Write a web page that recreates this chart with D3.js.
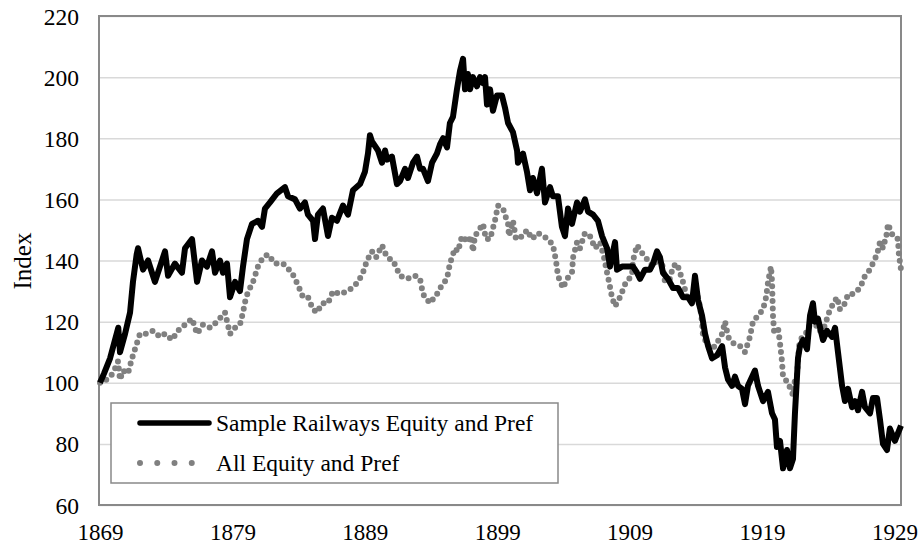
<!DOCTYPE html>
<html>
<head>
<meta charset="utf-8">
<script src="https://cdn.jsdelivr.net/npm/d3@7/dist/d3.min.js"></script>
<style>
  body { margin: 0; background: #fff; }
  svg { display: block; font-family: "Liberation Serif", "Times New Roman", serif; }
</style>
</head>
<body>
<svg id="chart"></svg>
<script>
// 数据
const railYears = [
  1869.00, 1869.30, 1869.76, 1870.38, 1870.51, 1870.89, 1871.27, 1871.49, 1871.77, 1871.87,
  1872.25, 1872.63, 1873.15, 1873.53, 1873.91, 1874.14, 1874.66, 1875.19, 1875.42, 1875.95,
  1876.33, 1876.70, 1877.08, 1877.46, 1877.69, 1878.06, 1878.29, 1878.59, 1878.82, 1879.20,
  1879.57, 1879.80, 1880.10, 1880.48, 1880.93, 1881.24, 1881.46, 1881.84, 1882.37, 1882.97,
  1883.20, 1883.73, 1884.10, 1884.48, 1884.71, 1885.09, 1885.24, 1885.46, 1885.84, 1886.22,
  1886.52, 1886.90, 1887.35, 1887.73, 1888.11, 1888.64, 1889.01, 1889.24, 1889.39, 1889.54,
  1890.00, 1890.30, 1890.53, 1890.68, 1891.05, 1891.43, 1891.66, 1892.04, 1892.26, 1892.64,
  1892.94, 1893.17, 1893.40, 1893.77, 1894.08, 1894.45, 1894.68, 1894.91, 1895.21, 1895.43,
  1895.66, 1895.96, 1896.19, 1896.42, 1896.57, 1896.79, 1896.95, 1897.17, 1897.47, 1897.70,
  1897.93, 1898.08, 1898.23, 1898.46, 1898.68, 1898.98, 1899.36, 1899.59, 1899.82, 1900.19,
  1900.50, 1900.57, 1900.95, 1901.25, 1901.48, 1901.70, 1902.01, 1902.38, 1902.61, 1902.99,
  1903.21, 1903.59, 1903.89, 1904.12, 1904.35, 1904.65, 1905.03, 1905.25, 1905.63, 1905.86,
  1906.24, 1906.61, 1906.92, 1907.30, 1907.52, 1907.90, 1908.05, 1908.43, 1908.88, 1909.26,
  1909.56, 1909.79, 1910.16, 1910.54, 1910.77, 1911.07, 1911.30, 1911.52, 1911.90, 1912.28,
  1912.66, 1913.03, 1913.41, 1913.71, 1913.94, 1914.17, 1914.47, 1914.70, 1914.93, 1915.23,
  1915.61, 1915.99, 1916.21, 1916.44, 1916.74, 1916.96, 1917.19, 1917.49, 1917.72, 1917.94,
  1918.47, 1918.70, 1919.08, 1919.45, 1919.76, 1919.98, 1920.13, 1920.36, 1920.59, 1920.89,
  1921.11, 1921.34, 1921.49, 1921.72, 1921.87, 1922.10, 1922.40, 1922.63, 1922.85, 1923.00,
  1923.23, 1923.61, 1923.91, 1924.29, 1924.52, 1924.74, 1925.05, 1925.27, 1925.50, 1925.80,
  1926.03, 1926.25, 1926.56, 1926.78, 1927.16, 1927.38, 1927.69, 1927.91, 1928.14, 1928.44,
  1928.66, 1929.04, 1929.50
];
const railValues = [
  100, 103, 108, 118, 110, 116, 123, 133, 142, 144,
  137, 140, 133, 138, 143, 135, 139, 136, 144, 147,
  133, 140, 138, 143, 136, 140, 136, 139, 128, 133,
  130, 138, 147, 152, 153, 151, 157, 159, 162, 164,
  161, 160, 157, 159, 155, 153, 147, 155, 157, 148,
  154, 153, 158, 155, 163, 165, 169, 175, 181, 179,
  176, 172, 176, 173, 174, 165, 166, 170, 167, 172,
  174, 170, 170, 166, 172, 175, 178, 180, 177, 185,
  187, 196, 202, 206, 196, 201, 196, 200, 197, 200,
  198, 200, 191, 196, 189, 194, 194, 190, 185, 182,
  176, 172, 175, 169, 163, 167, 162, 170, 159, 164,
  161, 161, 151, 148, 157, 152, 159, 156, 160, 156,
  155, 153, 148, 144, 138, 146, 137, 138, 138, 138,
  136, 134, 137, 137, 139, 143, 141, 136, 134, 131,
  131, 128, 128, 126, 135, 127, 122, 116, 112, 108,
  109, 112, 105, 101, 99, 102, 99, 98, 93, 99,
  104, 99, 94, 97, 90, 88, 79, 81, 72, 78,
  72, 75, 90, 108, 112, 114, 111, 122, 126, 120,
  121, 114, 117, 115, 118, 110, 99, 94, 98, 92,
  94, 91, 97, 92, 90, 95, 95, 88, 80, 78,
  85, 81, 86
];

const allYears = [
  1869.00, 1869.23, 1869.98, 1870.36, 1870.51, 1870.74, 1871.11, 1871.42, 1871.79, 1872.02,
  1872.55, 1873.00, 1873.53, 1873.91, 1874.44, 1874.89, 1875.42, 1875.95, 1876.33, 1876.78,
  1877.31, 1877.84, 1878.44, 1878.82, 1879.20, 1879.57, 1879.80, 1880.03, 1880.33, 1880.56,
  1880.93, 1881.31, 1881.69, 1882.22, 1882.82, 1883.50, 1883.95, 1884.33, 1884.71, 1885.09,
  1885.39, 1885.77, 1886.22, 1886.60, 1887.13, 1887.66, 1888.03, 1888.49, 1888.86, 1889.17,
  1889.54, 1889.85, 1890.30, 1890.68, 1891.13, 1891.66, 1892.19, 1892.79, 1893.17, 1893.40,
  1893.92, 1894.45, 1894.83, 1895.21, 1895.43, 1895.66, 1895.81, 1896.04, 1896.34, 1896.79,
  1897.02, 1897.17, 1897.32, 1897.93, 1898.15, 1898.46, 1898.83, 1899.06, 1899.44, 1899.66,
  1899.82, 1899.89, 1900.19, 1900.42, 1900.95, 1901.25, 1901.63, 1902.08, 1902.46, 1902.84,
  1903.21, 1903.44, 1903.59, 1903.97, 1904.27, 1904.65, 1904.73, 1905.03, 1905.25, 1905.63,
  1906.01, 1906.39, 1906.77, 1907.07, 1907.30, 1907.45, 1907.67, 1907.90, 1908.28, 1908.73,
  1909.18, 1909.26, 1909.56, 1910.01, 1910.39, 1910.77, 1911.14, 1911.52, 1911.67, 1912.05,
  1912.28, 1912.58, 1912.81, 1913.03, 1913.34, 1913.71, 1914.09, 1914.32, 1914.47, 1914.55,
  1914.85, 1915.08, 1915.46, 1915.99, 1916.21, 1916.44, 1916.81, 1917.34, 1917.72, 1918.09,
  1918.32, 1918.70, 1919.08, 1919.31, 1919.46, 1919.68, 1919.76, 1919.79, 1919.83, 1919.91,
  1920.21, 1920.36, 1920.51, 1920.59, 1920.96, 1921.34, 1921.49, 1921.64, 1921.72, 1921.80,
  1922.02, 1922.25, 1922.48, 1922.78, 1923.00, 1923.23, 1923.61, 1923.84, 1924.14, 1924.67,
  1924.89, 1925.27, 1925.50, 1925.88, 1926.41, 1926.78, 1927.16, 1927.69, 1927.91, 1928.14,
  1928.44, 1928.51, 1928.89, 1929.27, 1929.34, 1929.50
];
const allValues = [
  100, 100, 103, 107, 101, 104, 103, 108, 113, 116,
  116, 117, 115, 116, 114, 117, 119, 121, 116, 119,
  118, 120, 123, 116, 118, 119, 123, 128, 131, 133,
  138, 141, 142, 139, 139, 136, 132, 128, 128, 124,
  123, 126, 126, 130, 129, 130, 131, 133, 136, 140,
  143, 141, 145, 141, 140, 135, 134, 135, 134, 129,
  126, 129, 132, 134, 139, 142, 144, 143, 148, 146,
  148, 143, 148, 152, 147, 147, 153, 158, 157, 154,
  152, 148, 153, 147, 148, 150, 147, 149, 148, 147,
  145, 140, 135, 131, 134, 136, 141, 146, 144, 149,
  148, 144, 146, 141, 136, 133, 128, 125, 128, 133,
  135, 140, 145, 142, 140, 138, 141, 138, 133, 134,
  138, 139, 136, 133, 128, 128, 129, 125, 120, 115,
  113, 111, 112, 116, 120, 115, 113, 112, 110, 115,
  120, 122, 124, 128, 133, 138, 133, 128, 122, 117,
  118, 113, 107, 102, 100, 96, 101, 102, 107, 112,
  115, 116, 117, 122, 120, 117, 117, 120, 124, 128,
  124, 126, 129, 129, 131, 135, 137, 142, 146, 144,
  149, 152, 148, 147, 142, 137
];

const yTicks = [60, 80, 100, 120, 140, 160, 180, 200, 220];
const xTicks = [1869, 1879, 1889, 1899, 1909, 1919, 1929];
const seriesNames = ['Sample Railways Equity and Pref', 'All Equity and Pref'];

// 画布与绘图区
const W = 922, H = 546;
const plot = { left: 99, right: 901, top: 16, bottom: 505 };

const svg = d3.select('#chart').attr('width', W).attr('height', H);

// 比例尺
const xScale = d3.scaleLinear().domain([1869, 1929.5]).range([100, plot.right]);
const yScale = d3.scaleLinear().domain([60, 220]).range([plot.bottom, plot.top]);

// 网格线
svg.append('g')
  .attr('transform', `translate(${plot.left},0)`)
  .call(d3.axisLeft(yScale).tickValues(yTicks).tickSize(-(plot.right - plot.left)).tickFormat(''))
  .call(g => g.select('.domain').remove())
  .call(g => g.selectAll('line').attr('stroke', '#d9d9d9').attr('stroke-width', 1.5));

// Y轴刻度标签
svg.append('g')
  .attr('transform', `translate(${plot.left},0)`)
  .call(d3.axisLeft(yScale).tickValues(yTicks).tickSize(0).tickPadding(20))
  .call(g => g.select('.domain').remove())
  .call(g => g.selectAll('text')
    .attr('font-family', '"Liberation Serif", "Times New Roman", serif')
    .attr('font-size', 23.5)
    .attr('fill', '#000')
    .attr('dy', '0.34em'));

// X轴刻度标签
svg.append('g')
  .attr('transform', `translate(0,${plot.bottom})`)
  .call(d3.axisBottom(xScale).tickValues(xTicks).tickSize(0).tickPadding(0).tickFormat(d3.format('d')))
  .call(g => g.select('.domain').remove())
  .call(g => g.selectAll('text')
    .attr('font-family', '"Liberation Serif", "Times New Roman", serif')
    .attr('font-size', 23)
    .attr('fill', '#000')
    .attr('y', 35)
    .attr('dy', null));

// 绘图区边框
svg.append('rect')
  .attr('x', plot.left)
  .attr('y', plot.top)
  .attr('width', plot.right - plot.left)
  .attr('height', plot.bottom - plot.top)
  .attr('fill', 'none')
  .attr('stroke', '#898989')
  .attr('stroke-width', 2);

// Y轴标题
svg.append('text')
  .attr('transform', 'rotate(-90)')
  .attr('x', -261)
  .attr('y', 31)
  .attr('text-anchor', 'middle')
  .attr('font-size', 25)
  .text('Index');

// 折线
const line = d3.line()
  .x(d => xScale(d[0]))
  .y(d => yScale(d[1]));

const allData = allYears.map((y, i) => [y, allValues[i]]);
const railData = railYears.map((y, i) => [y, railValues[i]]);

svg.append('path')
  .datum(allData)
  .attr('fill', 'none')
  .attr('stroke', '#808080')
  .attr('stroke-width', 6)
  .attr('stroke-linecap', 'round')
  .attr('stroke-dasharray', '0 7.4')
  .attr('d', line);

svg.append('path')
  .datum(railData)
  .attr('fill', 'none')
  .attr('stroke', '#000')
  .attr('stroke-width', 6)
  .attr('stroke-linejoin', 'round')
  .attr('d', line);

// 图例
const legend = svg.append('g');
legend.append('rect')
  .attr('x', 111)
  .attr('y', 403)
  .attr('width', 447)
  .attr('height', 80)
  .attr('fill', '#fff')
  .attr('stroke', '#898989')
  .attr('stroke-width', 1.5);

legend.append('line')
  .attr('x1', 140).attr('x2', 209)
  .attr('y1', 423).attr('y2', 423)
  .attr('stroke', '#000')
  .attr('stroke-width', 5.5)
  .attr('stroke-linecap', 'round');

legend.append('line')
  .attr('x1', 140).attr('x2', 209)
  .attr('y1', 463).attr('y2', 463)
  .attr('stroke', '#808080')
  .attr('stroke-width', 6)
  .attr('stroke-linecap', 'round')
  .attr('stroke-dasharray', '0 17.25');

legend.selectAll('text.leg')
  .data(seriesNames)
  .enter()
  .append('text')
  .attr('class', 'leg')
  .attr('x', 216)
  .attr('y', (d, i) => 431 + i * 40)
  .attr('font-size', 23.5)
  .text(d => d);
</script>
</body>
</html>
